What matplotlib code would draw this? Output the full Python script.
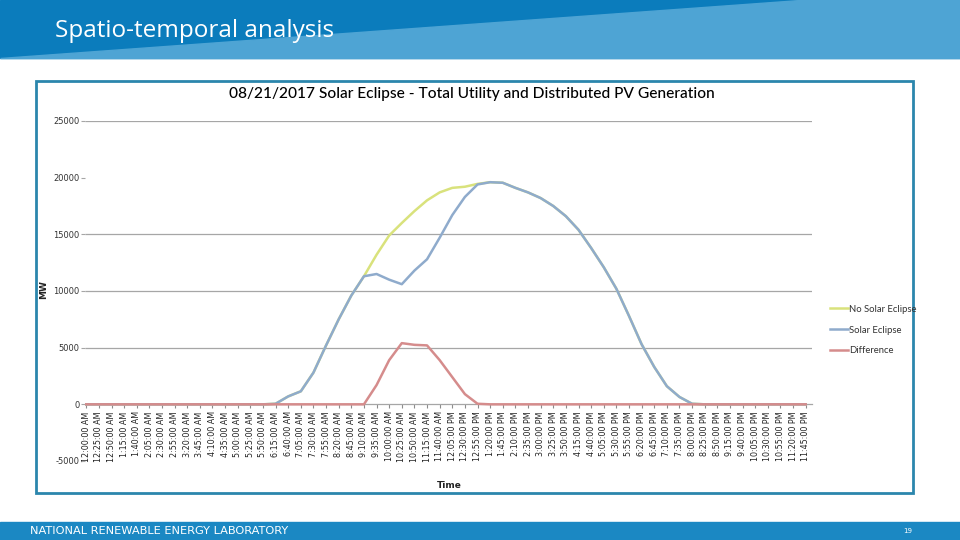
"""Recreate slide: 08/21/2017 solar eclipse PV generation (NREL)."""

import matplotlib
matplotlib.use("Agg")
import matplotlib.pyplot as plt
from matplotlib.patches import Polygon, Rectangle

# -- data: one value per x label (every 25 minutes, 12:00 AM .. 11:45 PM) -----
minutes = list(range(0, 1440, 25))
tick_labels = []
for m in minutes:
    h, mm = divmod(m, 60)
    h12 = 12 if h % 12 == 0 else h % 12
    tick_labels.append(f"{h12}:{mm:02d}:00 {'AM' if h < 12 else 'PM'}")

solar_eclipse = [0] * 15 + [
    50, 700, 1150, 2800, 5200, 7500, 9600, 11300, 11500, 11000,
    10600, 11800, 12800, 14700, 16700, 18300, 19400, 19600, 19550, 19100,
    18700, 18200, 17500, 16600, 15400, 13800, 12100, 10200, 7800, 5300,
    3300, 1600, 650, 50] + [0] * 9
no_solar_eclipse = [0] * 15 + [
    50, 700, 1150, 2800, 5200, 7500, 9600, 11300, 13200, 14900,
    16000, 17050, 18000, 18700, 19100, 19200, 19450, 19600, 19550, 19100,
    18700, 18200, 17500, 16600, 15400, 13800, 12100, 10200, 7800, 5300,
    3300, 1600, 650, 50] + [0] * 9
difference = [0] * 22 + [
    0, 1700, 3900, 5400, 5250, 5200, 3900, 2400, 900, 50] + [0] * 26

y_ticks = [-5000, 0, 5000, 10000, 15000, 20000, 25000]
grid_values = [5000, 10000, 15000, 25000]   # 20000 line is missing in the original

W, H = 960, 540
fig = plt.figure(figsize=(W / 100, H / 100), dpi=100)


def px_rect(x0, y0, x1, y1):
    """figure-fraction rect from pixel coords (origin top-left)."""
    return [x0 / W, 1 - y1 / H, (x1 - x0) / W, (y1 - y0) / H]


def px(x, y):
    return (x / W, 1 - y / H)


# -- header band ----------------------------------------------------------------
fig.add_artist(Rectangle(px(0, 58), 1, 58 / H, transform=fig.transFigure,
                         color="#0b7cbc", zorder=0))
fig.add_artist(Polygon([px(0, 58), px(960, 58), px(960, 0), px(800, 0)],
                       closed=True, transform=fig.transFigure,
                       color="#4ea4d4", zorder=0))
fig.text(55 / W, 1 - 31 / H, "Spatio-temporal analysis", color="white",
         fontsize=17.5, family="Open Sans", va="center", ha="left")

# -- footer band ----------------------------------------------------------------
fig.add_artist(Rectangle(px(0, 540), 1, 18 / H, transform=fig.transFigure,
                         color="#1b88c3", zorder=0))
fig.text(30 / W, 1 - 531 / H, "NATIONAL RENEWABLE ENERGY LABORATORY", color="white",
         fontsize=8.2, family="DejaVu Sans", va="center", ha="left")
fig.text(908 / W, 1 - 531 / H, "19", color="white", fontsize=5, va="center", ha="center")

# -- chart frame + title --------------------------------------------------------
fig.add_artist(Rectangle(px(36, 493), 877 / W, 412 / H, transform=fig.transFigure,
                         fill=False, edgecolor="#2b86ad", linewidth=2, zorder=1))
fig.text(472 / W, 1 - 94 / H,
         "08/21/2017 Solar Eclipse - Total Utility and Distributed PV Generation",
         fontsize=11.2, family="Lato", fontweight="medium", color="#000000",
         ha="center", va="center")

# -- plot ------------------------------------------------------------------------
ax = fig.add_axes(px_rect(85, 121, 812, 461))
ax.patch.set_alpha(0)
for s in ["top", "right", "left"]:
    ax.spines[s].set_visible(False)
# x axis sits on the zero line (set before labelling: set_position resets ticks)
ax.spines["bottom"].set_position(("data", 0))
ax.spines["bottom"].set_color("#a6a6a6")
ax.spines["bottom"].set_linewidth(0.9)

ax.hlines(grid_values, -2.5, 1437.5, colors="#a6a6a6", linewidth=0.9, zorder=1)

ax.plot(minutes, no_solar_eclipse, color="#d9e27c", lw=1.8, label="No Solar Eclipse", zorder=3)
ax.plot(minutes, solar_eclipse, color="#8fabcc", lw=1.8, label="Solar Eclipse", zorder=4)
ax.plot(minutes, difference, color="#d58c8c", lw=1.8, label="Difference", zorder=5)

ax.set_xlim(-2.5, 1437.5)
ax.set_ylim(-5000, 25000)
ax.set_yticks(y_ticks)
ax.set_yticklabels([str(v) for v in y_ticks])
ax.tick_params(axis="y", length=3, color="#a6a6a6", labelsize=6, pad=1,
               labelcolor="#333333")

ax.set_xticks(minutes)
ax.set_xticklabels(tick_labels, rotation=90, fontsize=5.8, color="#222222")
ax.tick_params(axis="x", length=3, color="#8c8c8c", pad=2)

fig.text(449 / W, 1 - 485 / H, "Time", fontsize=6.5, fontweight="bold",
         ha="center", va="center", color="#222222")
fig.text(44 / W, 1 - 290 / H, "MW", fontsize=6.5, fontweight="bold", rotation=90,
         ha="center", va="center", color="#222222")

leg = fig.legend(loc="upper left", bbox_to_anchor=(825 / W, 1 - 300 / H), frameon=False,
                 prop={"family": "Lato", "size": 6.8}, handlelength=1.9,
                 handletextpad=0.15, labelspacing=1.25, borderpad=0)
for t in leg.get_texts():
    t.set_color("#333333")

fig.savefig("out.png", dpi=100)
